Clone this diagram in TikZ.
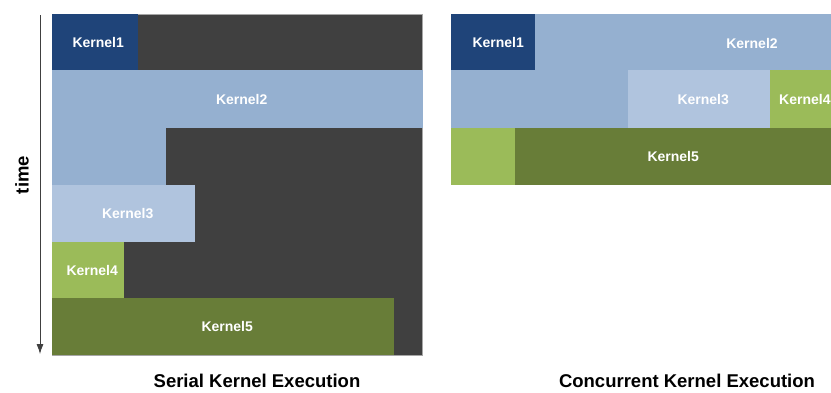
\documentclass[tikz,border=0pt]{standalone}
\usepackage{fontspec}
\setmainfont{Liberation Sans}
\usepackage{tikz}
\usetikzlibrary{arrows.meta}

\definecolor{idle}{HTML}{404040}
\definecolor{kone}{HTML}{1F4479}
\definecolor{ktwo}{HTML}{95B0D0}
\definecolor{kthree}{HTML}{B0C4DE}
\definecolor{kfour}{HTML}{9BBB59}
\definecolor{kfive}{HTML}{687D38}

\tikzset{
  kbox/.style={rectangle, inner sep=0pt, anchor=north west, text=white,
    font=\fontsize{14}{14}\selectfont\bfseries},
  klabel/.style={text=white, inner sep=0pt, font=\fontsize{14}{14}\selectfont\bfseries},
  caption/.style={font=\fontsize{18.5}{18.5}\selectfont\bfseries}
}

\begin{document}
\begin{tikzpicture}[x=1pt,y=-1pt]
            \useasboundingbox (0,0) rectangle (831,392);

            % serial
            \node[kbox, fill=idle, draw=gray!70, line width=0.6pt, minimum width=370pt, minimum height=341pt] (sbg) at (52,14) {};
            \node[kbox, fill=kone, minimum width=86pt, minimum height=56pt] (s1) at (52,14) {\hspace{6pt}Kernel1};
            \fill[ktwo] (52,127) rectangle (166,185);
            \node[kbox, fill=ktwo, minimum width=371pt, minimum height=58pt] (s2) at (52,70) {\hspace{8pt}Kernel2};
            \node[kbox, fill=kthree, minimum width=143pt, minimum height=57pt] (s3) at (52,185) {\hspace{8pt}Kernel3};
            \node[kbox, fill=kfour, minimum width=72pt, minimum height=56pt] (s4) at (52,242) {\hspace{8pt}Kernel4};
            \node[kbox, fill=kfive, minimum width=342pt, minimum height=57pt] (s5) at (52,298) {\hspace{8pt}Kernel5};

            % concurrent
            \fill[ktwo] (535,14) rectangle (831,70);
            \fill[ktwo] (451,69) rectangle (628,128);
            \node[kbox, fill=kone, minimum width=84pt, minimum height=56pt] (c1) at (451,14) {\hspace{10pt}Kernel1};
            \node[klabel] (c2) at (752,43) {Kernel2};
            \node[kbox, fill=kthree, minimum width=142pt, minimum height=58pt] (c3) at (628,70) {\hspace{8pt}Kernel3};
            \node[kbox, fill=kfour, minimum width=61pt, minimum height=58pt] (c4) at (770,70) {};
            \node[klabel, anchor=west] (c4t) at (779,99) {Kernel4};
            \node[kbox, fill=kfour, minimum width=64pt, minimum height=57pt] (c4b) at (451,128) {};
            \node[kbox, fill=kfive, minimum width=316pt, minimum height=57pt] (c5) at (515,128) {Kernel5};

            % time axis
            \coordinate (t0) at (40,15);
            \coordinate (t1) at (40,354);
            \draw[-{Latex[length=10pt,width=7pt]}, idle, line width=0.8pt] (t0) -- (t1);
            \node[caption, rotate=90] (time) at (22,175) {time};

            \node[caption] (serial) at (257,381) {Serial Kernel Execution};
            \node[caption] (conc) at (687,381) {Concurrent Kernel Execution};
        \end{tikzpicture}
\end{document}
